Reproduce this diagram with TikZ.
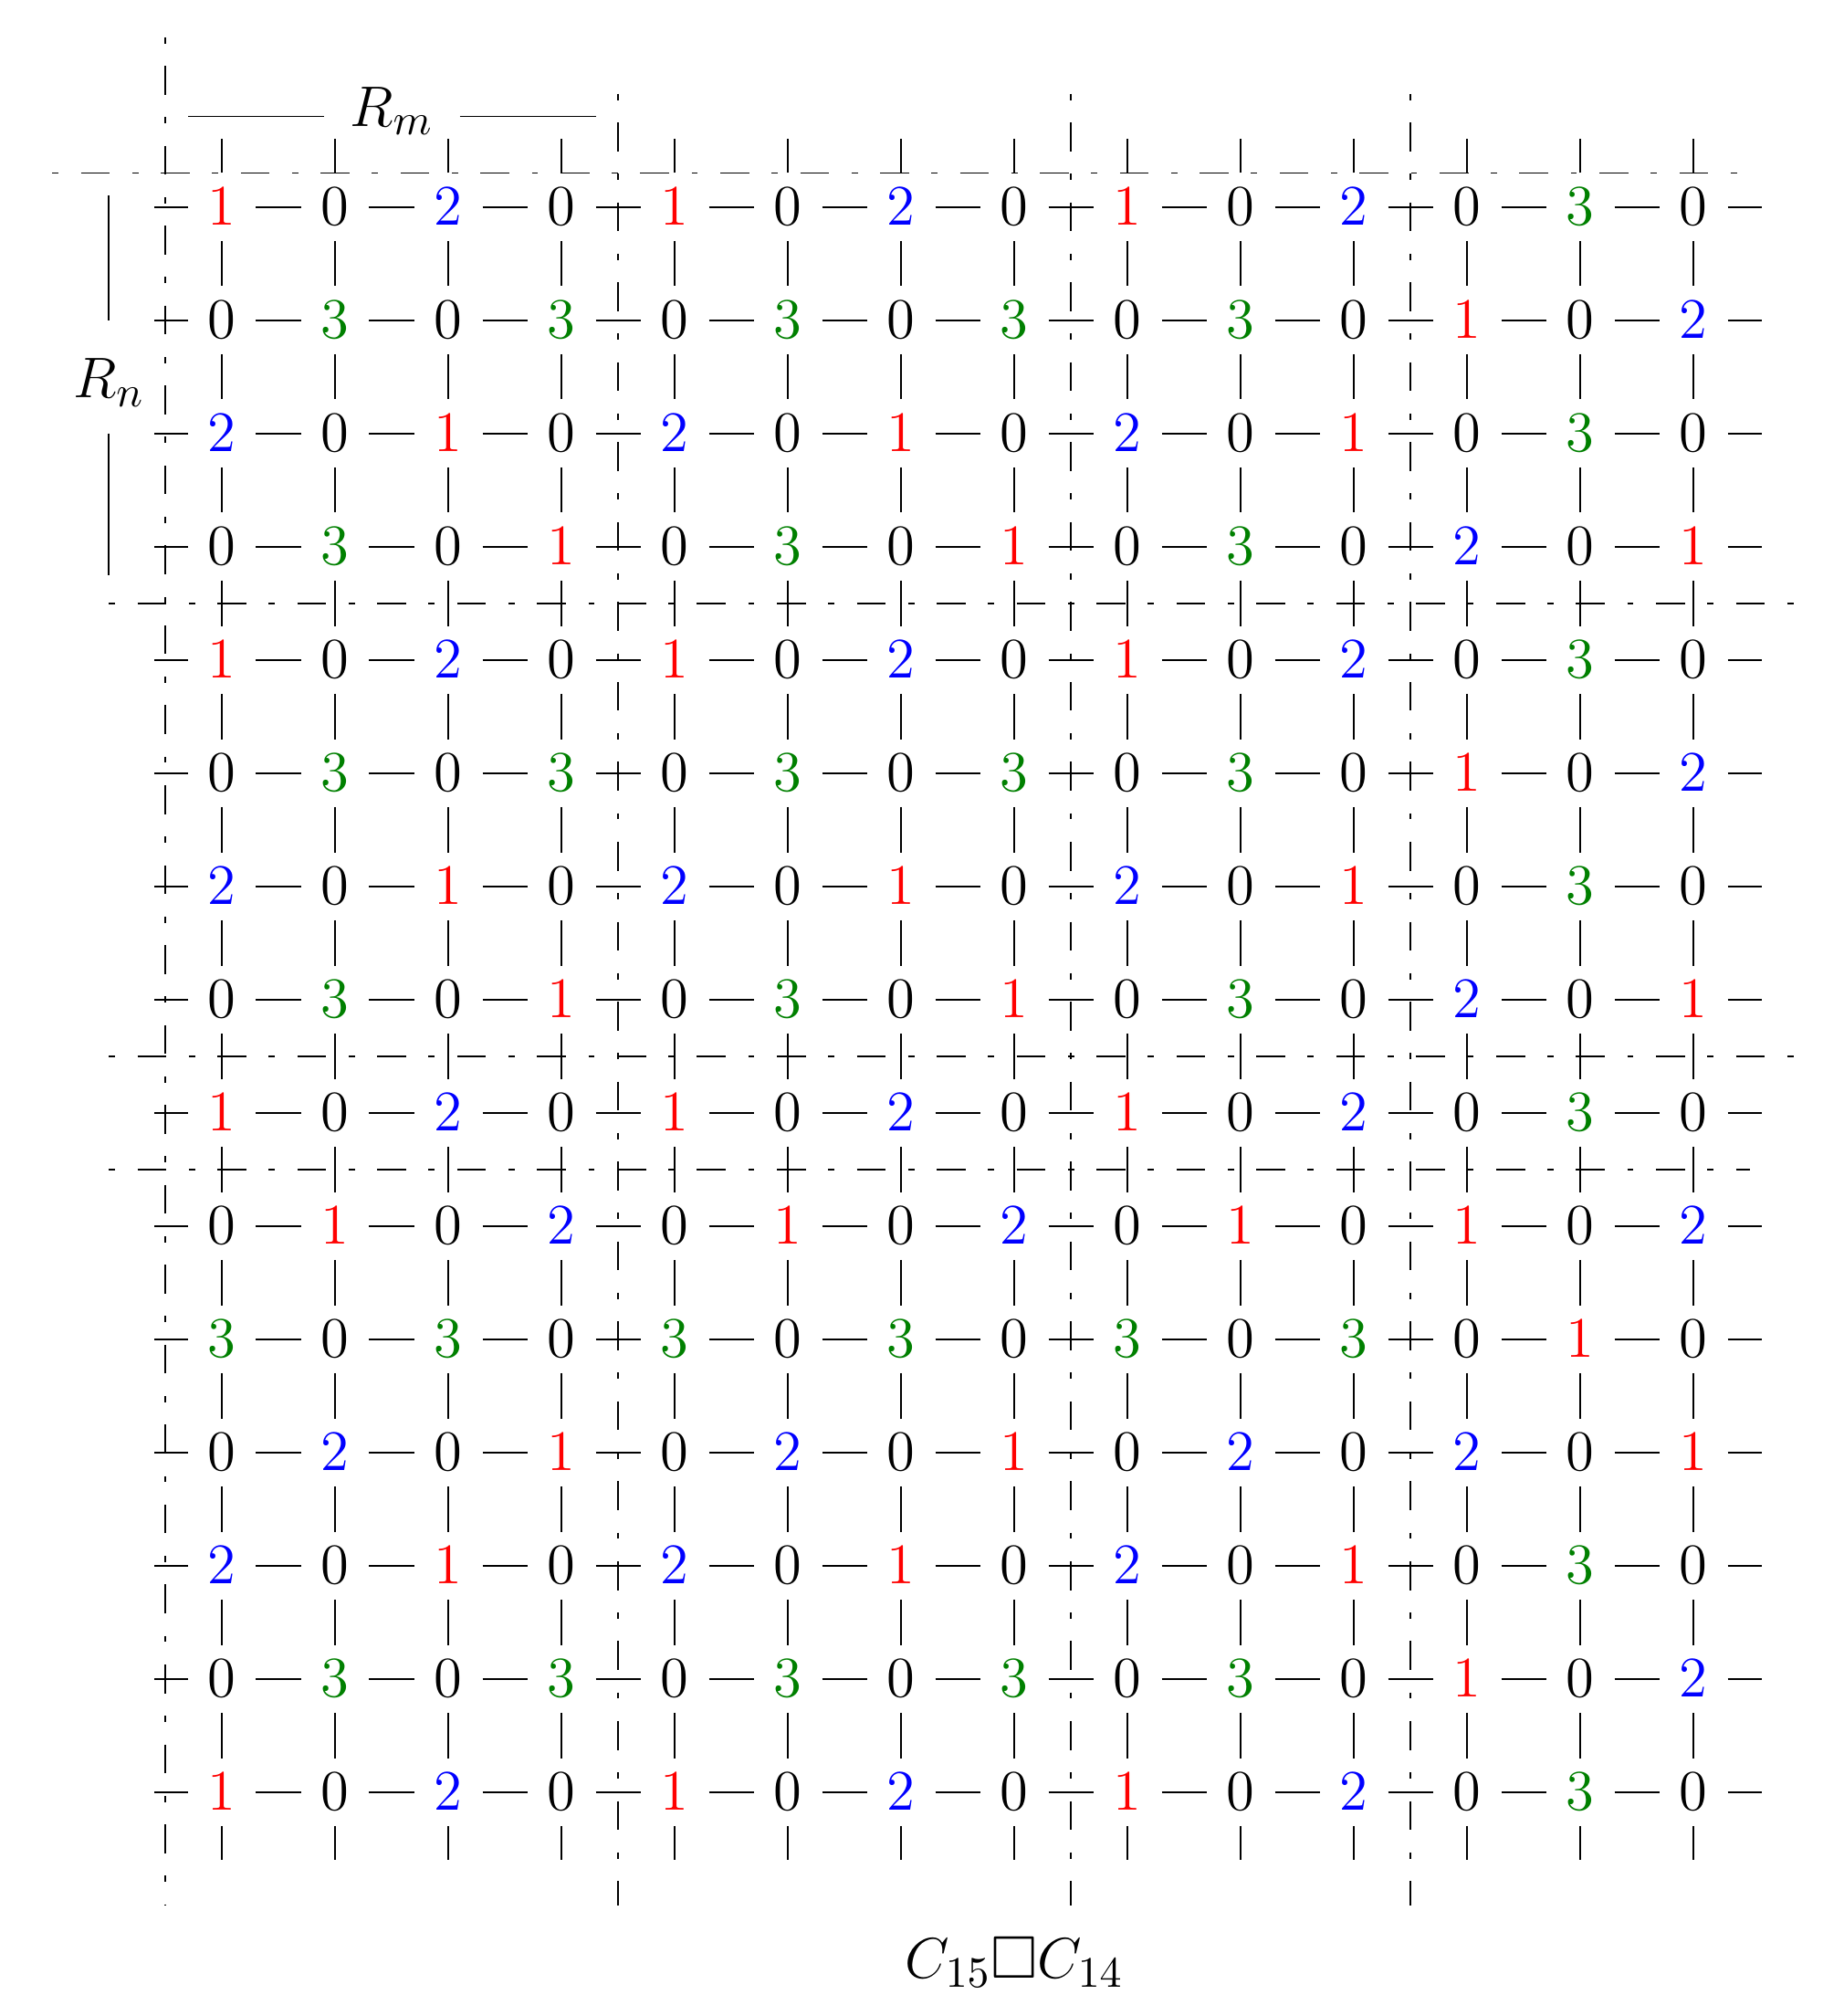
\documentclass[tikz,border=0pt]{standalone}
\usepackage{amssymb}
\definecolor{dgreen}{RGB}{0,128,0}
\colorlet{c0}{black}
\colorlet{c1}{red}
\colorlet{c2}{blue}
\colorlet{c3}{dgreen}
\begin{document}
\begin{tikzpicture}[x=1cm,y=1cm,line width=0.4pt,
  num/.style={circle,inner sep=0pt,minimum size=0.6cm,outer sep=0pt,font=\Large},
  ddline/.style={dash pattern=on 0.055cm off 0.198cm on 0.255cm off 0.198cm},
  lbl/.style={font=\fontsize{15.1}{18}\selectfont,inner sep=0pt}]
\useasboundingbox (-1.962,-15.978) rectangle (14.320,1.828);

% grid nodes
\foreach \r/\row in {
  1/{1,0,2,0,1,0,2,0,1,0,2,0,3,0},
  2/{0,3,0,3,0,3,0,3,0,3,0,1,0,2},
  3/{2,0,1,0,2,0,1,0,2,0,1,0,3,0},
  4/{0,3,0,1,0,3,0,1,0,3,0,2,0,1},
  5/{1,0,2,0,1,0,2,0,1,0,2,0,3,0},
  6/{0,3,0,3,0,3,0,3,0,3,0,1,0,2},
  7/{2,0,1,0,2,0,1,0,2,0,1,0,3,0},
  8/{0,3,0,1,0,3,0,1,0,3,0,2,0,1},
  9/{1,0,2,0,1,0,2,0,1,0,2,0,3,0},
  10/{0,1,0,2,0,1,0,2,0,1,0,1,0,2},
  11/{3,0,3,0,3,0,3,0,3,0,3,0,1,0},
  12/{0,2,0,1,0,2,0,1,0,2,0,2,0,1},
  13/{2,0,1,0,2,0,1,0,2,0,1,0,3,0},
  14/{0,3,0,3,0,3,0,3,0,3,0,1,0,2},
  15/{1,0,2,0,1,0,2,0,1,0,2,0,3,0}}{
  \foreach \v [count=\c] in \row {
    \node[num,text=c\v] (n-\r-\c) at ({\c-1},{1-\r}) {$\v$};
  }
}

% horizontal edges and wrap stubs
\foreach \r in {1,...,15}{
  \foreach \c [evaluate=\c as \d using {int(\c+1)}] in {1,...,13}{
    \draw (n-\r-\c) -- (n-\r-\d);
  }
  \draw (n-\r-1) -- ++(-0.6,0);
  \draw (n-\r-14) -- ++(0.6,0);
}
% vertical edges and wrap stubs
\foreach \c in {1,...,14}{
  \foreach \r [evaluate=\r as \s using {int(\r+1)}] in {1,...,14}{
    \draw (n-\r-\c) -- (n-\s-\c);
  }
  \draw (n-1-\c) -- ++(0,0.6);
  \draw (n-15-\c) -- ++(0,-0.6);
}

% dash-dot separators
\draw[ddline] (-0.5,1.5) -- (-0.5,-15);
\draw[ddline] (3.5,1) -- (3.5,-15);
\draw[ddline] (7.5,1) -- (7.5,-15);
\draw[ddline] (10.5,1) -- (10.5,-15);
\draw[ddline] (-1.5,0.3) -- (13.5,0.3);
\draw[ddline] (-1,-3.5) -- (14,-3.5);
\draw[ddline] (-1,-7.5) -- (14,-7.5);
\draw[ddline] (-1,-8.5) -- (13.5,-8.5);

% labels
\node[lbl] (Rm) at (1.5,0.85) {$R_m$};
\draw (-0.3,0.8) -- (0.9,0.8);
\draw (2.1,0.8) -- (3.3,0.8);
\node[lbl] (Rn) at (-1.0,-1.55) {$R_n$};
\draw (-1,0.1) -- (-1,-1.0);
\draw (-1,-2.0) -- (-1,-3.25);
\node[lbl,anchor=base] (title) at (7.0,-15.645) {$C_{15}\square C_{14}$};
\end{tikzpicture}
\end{document}
